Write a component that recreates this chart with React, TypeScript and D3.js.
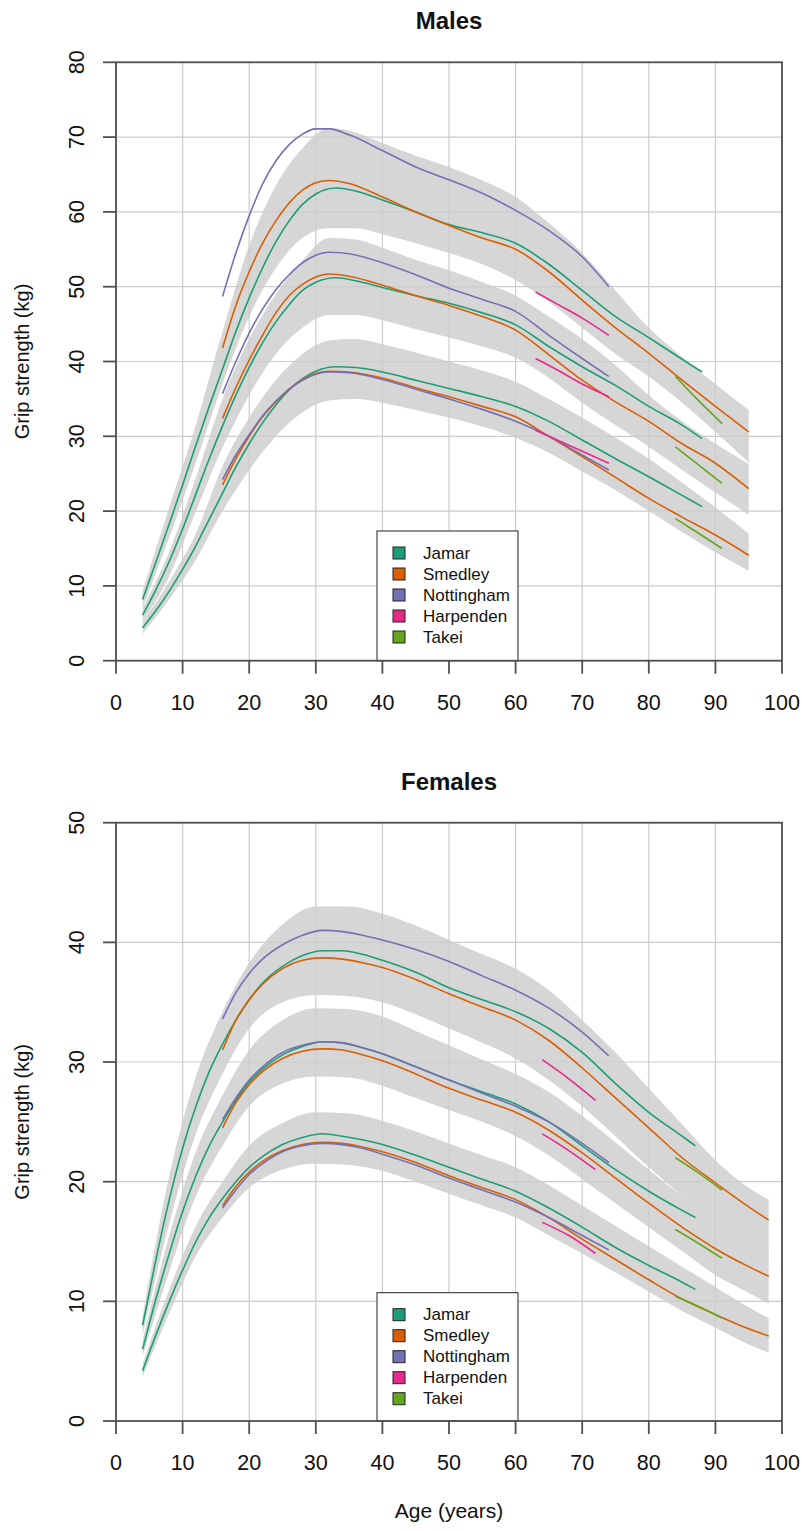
import React from "react";
import * as d3 from "d3";

// ---------- Legend / categories ----------
const DEVICES = ["Jamar", "Smedley", "Nottingham", "Harpenden", "Takei"];
const DEVICE_COLORS = ["#1B9E77", "#D95F02", "#7570B3", "#E7298A", "#66A61E"];
const AGE_TICKS = [0, 10, 20, 30, 40, 50, 60, 70, 80, 90, 100];
const MALE_KG_TICKS = [0, 10, 20, 30, 40, 50, 60, 70, 80];
const FEMALE_KG_TICKS = [0, 10, 20, 30, 40, 50];

// ---------- Males: device curves (10th, 50th, 90th centiles) ----------
const M_JAMAR_AGES = [4, 6, 8, 10, 12, 14, 16, 18, 20, 22, 24, 26, 28, 30, 33, 36, 40, 45, 50, 55, 60, 65, 70, 75, 80, 85, 88];
const M_JAMAR_HI = [8.2, 13.2, 18.3, 23.5, 28.8, 34, 39, 44, 48.5, 52.5, 56, 58.8, 61, 62.4, 63.2, 62.8, 61.6, 60, 58.3, 57.2, 55.8, 53, 49.5, 46, 43.2, 40.3, 38.6];
const M_JAMAR_MID = [6.1, 9.5, 13.3, 17.6, 22.3, 27, 31.4, 35.5, 39.2, 42.5, 45.3, 47.6, 49.5, 50.6, 51.2, 50.8, 49.9, 48.8, 47.8, 46.5, 44.9, 42, 39.3, 36.8, 34, 31.5, 29.7];
const M_JAMAR_LO = [4.4, 6.7, 9.3, 12.2, 15.4, 18.9, 22.4, 25.9, 29, 31.8, 34.2, 36.2, 37.7, 38.7, 39.3, 39.2, 38.6, 37.5, 36.4, 35.3, 34, 32, 29.5, 27, 24.6, 22.1, 20.6];

const M_SMEDLEY_AGES = [16, 18, 20, 22, 24, 26, 28, 30, 32, 35, 40, 45, 50, 55, 60, 65, 70, 75, 80, 85, 90, 95];
const M_SMEDLEY_HI = [41.8, 47.5, 52, 55.8, 58.8, 61.2, 62.9, 63.9, 64.2, 63.8, 62, 60, 58.2, 56.5, 55, 52, 48.2, 44.5, 41.1, 37.5, 34, 30.6];
const M_SMEDLEY_MID = [32.4, 36.5, 40.2, 43.5, 46.5, 48.8, 50.3, 51.3, 51.7, 51.4, 50.2, 48.8, 47.5, 46, 44.2, 40.9, 37.5, 34.6, 32, 29, 26.4, 23];
const M_SMEDLEY_LO = [23.5, 27, 30, 32.6, 34.6, 36.3, 37.6, 38.4, 38.7, 38.6, 37.8, 36.5, 35.3, 34, 32.6, 30, 27.3, 24.5, 21.7, 19.2, 16.8, 14.1];

const M_NOTT_AGES = [16, 18, 20, 22, 24, 26, 28, 30, 32, 35, 40, 45, 50, 55, 60, 65, 70, 74];
const M_NOTT_HI = [48.7, 54.5, 59.5, 63.7, 66.8, 69, 70.4, 71.1, 71.1, 70.3, 68.2, 66, 64.3, 62.5, 60.2, 57.5, 54, 50];
const M_NOTT_MID = [35.7, 40, 43.8, 47, 49.6, 51.6, 53.2, 54.2, 54.6, 54.4, 53.2, 51.6, 49.8, 48.3, 46.7, 43.5, 40.4, 38];
const M_NOTT_LO = [24.2, 27.5, 30.2, 32.7, 34.7, 36.3, 37.5, 38.3, 38.6, 38.5, 37.6, 36.3, 35, 33.6, 32, 30, 27.5, 25.5];

const M_HARP_AGES = [63, 66, 70, 74];
const M_HARP_HI = [49.3, 47.8, 45.8, 43.5];
const M_HARP_MID = [40.4, 39, 37, 35.3];
const M_HARP_LO = [30.8, 29.6, 28, 26.4];

const M_TAKEI_AGES = [84, 87, 91];
const M_TAKEI_HI = [38.0, 35.2, 31.7];
const M_TAKEI_MID = [28.6, 26.5, 23.7];
const M_TAKEI_LO = [19.0, 17.3, 15.0];

// ---------- Males: grey reference bands ----------
const M_BAND_AGES = [4, 8, 12, 16, 20, 24, 28, 32, 36, 40, 45, 50, 55, 60, 65, 70, 75, 80, 85, 90, 95];
const M_BAND_HI_LOWER = [7.0, 16.5, 26.5, 37, 46, 52.5, 56.5, 57.8, 57.8, 57, 55.8, 54.5, 53, 50.9, 48, 44.5, 41, 38, 34.5, 30.6, 26.5];
const M_BAND_HI_UPPER = [9.4, 20.5, 31.5, 44, 55.5, 63.5, 68.5, 71.2, 70.6, 69.2, 67.5, 66, 64.2, 62, 58.5, 54.5, 49.5, 44.5, 40.6, 37, 33.5];
const M_BAND_MID_LOWER = [5.2, 11.3, 20, 28.5, 35.5, 41, 44.5, 46.2, 46.2, 45.5, 44.3, 43.2, 42, 40.5, 37.8, 34.5, 31.5, 28.6, 25.5, 22.5, 19.5];
const M_BAND_MID_UPPER = [7.0, 14.6, 24.5, 35, 43, 49, 53.5, 56.5, 56.3, 55.2, 53.6, 52.2, 50.6, 48.8, 46, 43, 39.5, 35.5, 32, 29, 26.3];
const M_BAND_LO_LOWER = [3.6, 8.2, 13.5, 20, 25.5, 30, 33.2, 34.8, 35, 34.5, 33.5, 32.5, 31.3, 29.8, 27.8, 25.3, 22.8, 20, 17.2, 14.5, 12];
const M_BAND_LO_UPPER = [5.2, 10.6, 17, 26, 32.5, 37.5, 41, 42.8, 43, 42.3, 41.2, 40, 38.8, 37.3, 35, 32.5, 29.8, 27, 23.8, 20.5, 17];

// ---------- Females: device curves ----------
const F_JAMAR_AGES = [4, 6, 8, 10, 12, 14, 16, 18, 20, 22, 25, 28, 31, 34, 37, 40, 45, 50, 55, 60, 65, 70, 75, 80, 85, 87];
const F_JAMAR_HI = [8, 13.5, 18.5, 22.8, 26.3, 29.2, 31.5, 33.5, 35.2, 36.6, 38, 38.9, 39.3, 39.3, 39, 38.5, 37.5, 36.2, 35.2, 34.2, 32.8, 30.8, 28.2, 25.8, 23.8, 23];
const F_JAMAR_MID = [6, 10.2, 14, 17.5, 20.5, 23, 25, 26.8, 28.3, 29.4, 30.6, 31.3, 31.7, 31.6, 31.2, 30.7, 29.6, 28.5, 27.5, 26.5, 25, 23, 21, 19.2, 17.6, 17];
const F_JAMAR_LO = [4.2, 7.2, 10, 12.6, 15, 17, 18.6, 20, 21.2, 22.1, 23.1, 23.7, 24, 23.8, 23.5, 23.1, 22.2, 21.2, 20.2, 19.2, 17.8, 16.2, 14.5, 13, 11.6, 11];

const F_SMEDLEY_AGES = [16, 18, 20, 22, 25, 28, 31, 34, 37, 40, 45, 50, 55, 60, 65, 70, 75, 80, 85, 90, 95, 98];
const F_SMEDLEY_HI = [31, 33.5, 35.2, 36.5, 37.8, 38.5, 38.7, 38.6, 38.3, 37.9, 36.9, 35.7, 34.6, 33.5, 31.8, 29.5, 27, 24.5, 22, 19.9, 17.9, 16.8];
const F_SMEDLEY_MID = [24.5, 26.6, 28.1, 29.2, 30.3, 30.9, 31.1, 31, 30.6, 30.1, 29, 27.8, 26.8, 25.8, 24.3, 22.4, 20.3, 18.2, 16.2, 14.4, 12.9, 12.1];
const F_SMEDLEY_LO = [18, 19.6, 20.8, 21.7, 22.6, 23.1, 23.3, 23.2, 22.9, 22.5, 21.6, 20.5, 19.5, 18.5, 17, 15.2, 13.5, 11.8, 10.2, 8.9, 7.7, 7.1];

const F_NOTT_AGES = [16, 18, 20, 22, 25, 28, 31, 34, 37, 40, 45, 50, 55, 60, 65, 70, 74];
const F_NOTT_HI = [33.6, 35.8, 37.4, 38.6, 39.8, 40.6, 41, 40.9, 40.6, 40.2, 39.4, 38.4, 37.2, 36, 34.5, 32.5, 30.5];
const F_NOTT_MID = [25.2, 27, 28.5, 29.6, 30.8, 31.4, 31.7, 31.6, 31.2, 30.7, 29.6, 28.5, 27.4, 26.3, 25, 23.2, 21.6];
const F_NOTT_LO = [17.8, 19.3, 20.6, 21.5, 22.5, 23, 23.2, 23.1, 22.8, 22.3, 21.4, 20.3, 19.3, 18.3, 17, 15.5, 14.3];

const F_HARP_AGES = [64, 68, 72];
const F_HARP_HI = [30.2, 28.6, 26.8];
const F_HARP_MID = [24, 22.6, 21];
const F_HARP_LO = [16.6, 15.5, 14];

const F_TAKEI_AGES = [84, 87, 91];
const F_TAKEI_HI = [22, 20.9, 19.3];
const F_TAKEI_MID = [16, 15, 13.6];
const F_TAKEI_LO = [10.4, 9.7, 8.6];

// ---------- Females: grey reference bands ----------
const F_BAND_AGES = [4, 8, 12, 16, 20, 25, 30, 35, 40, 45, 50, 55, 60, 65, 70, 75, 80, 85, 90, 95, 98];
const F_BAND_HI_LOWER = [7.2, 16.5, 24, 29, 32.8, 35, 35.6, 35.5, 35, 34, 32.8, 31.6, 30.3, 28.5, 26.3, 23.8, 21.2, 18.8, 16.5, 14.5, 13.5];
const F_BAND_HI_UPPER = [8.8, 20.5, 28.8, 34.2, 38.3, 41.5, 43, 43, 42.4, 41.4, 40.2, 39, 37.8, 36, 33.5, 30.8, 27.8, 24.8, 21.8, 19.5, 18.5];
const F_BAND_MID_LOWER = [5.4, 12.5, 18.8, 23, 26.3, 28.2, 28.8, 28.7, 28, 27, 26, 25, 23.8, 22.2, 20.2, 18.2, 16.2, 14.2, 12.2, 10.7, 9.8];
const F_BAND_MID_UPPER = [6.8, 15.5, 22.5, 27.2, 31, 33.5, 34.5, 34.4, 33.8, 32.6, 31.4, 30.2, 29, 27.5, 25.5, 23.3, 21, 18.8, 16.8, 15, 14];
const F_BAND_LO_LOWER = [3.7, 9, 13.8, 17, 19.5, 21, 21.5, 21.4, 20.9, 20, 19, 18, 17, 15.5, 14, 12.4, 10.8, 9.2, 7.8, 6.4, 5.7];
const F_BAND_LO_UPPER = [4.8, 11, 16.3, 20, 23, 24.9, 25.8, 25.7, 25.1, 24.2, 23.2, 22.2, 21.2, 19.7, 18, 16.3, 14.6, 12.9, 11.2, 9.5, 8.6];

// ---------- assemble ----------
type Series = { device: number; ages: number[]; values: number[] };
type Band = { ages: number[]; lower: number[]; upper: number[] };

const maleSeries: Series[] = [
  ...[M_JAMAR_HI, M_JAMAR_MID, M_JAMAR_LO].map((v) => ({ device: 0, ages: M_JAMAR_AGES, values: v })),
  ...[M_SMEDLEY_HI, M_SMEDLEY_MID, M_SMEDLEY_LO].map((v) => ({ device: 1, ages: M_SMEDLEY_AGES, values: v })),
  ...[M_NOTT_HI, M_NOTT_MID, M_NOTT_LO].map((v) => ({ device: 2, ages: M_NOTT_AGES, values: v })),
  ...[M_HARP_HI, M_HARP_MID, M_HARP_LO].map((v) => ({ device: 3, ages: M_HARP_AGES, values: v })),
  ...[M_TAKEI_HI, M_TAKEI_MID, M_TAKEI_LO].map((v) => ({ device: 4, ages: M_TAKEI_AGES, values: v })),
];
const maleBands: Band[] = [
  { ages: M_BAND_AGES, lower: M_BAND_HI_LOWER, upper: M_BAND_HI_UPPER },
  { ages: M_BAND_AGES, lower: M_BAND_MID_LOWER, upper: M_BAND_MID_UPPER },
  { ages: M_BAND_AGES, lower: M_BAND_LO_LOWER, upper: M_BAND_LO_UPPER },
];
const femaleSeries: Series[] = [
  ...[F_JAMAR_HI, F_JAMAR_MID, F_JAMAR_LO].map((v) => ({ device: 0, ages: F_JAMAR_AGES, values: v })),
  ...[F_SMEDLEY_HI, F_SMEDLEY_MID, F_SMEDLEY_LO].map((v) => ({ device: 1, ages: F_SMEDLEY_AGES, values: v })),
  ...[F_NOTT_HI, F_NOTT_MID, F_NOTT_LO].map((v) => ({ device: 2, ages: F_NOTT_AGES, values: v })),
  ...[F_HARP_HI, F_HARP_MID, F_HARP_LO].map((v) => ({ device: 3, ages: F_HARP_AGES, values: v })),
  ...[F_TAKEI_HI, F_TAKEI_MID, F_TAKEI_LO].map((v) => ({ device: 4, ages: F_TAKEI_AGES, values: v })),
];
const femaleBands: Band[] = [
  { ages: F_BAND_AGES, lower: F_BAND_HI_LOWER, upper: F_BAND_HI_UPPER },
  { ages: F_BAND_AGES, lower: F_BAND_MID_LOWER, upper: F_BAND_MID_UPPER },
  { ages: F_BAND_AGES, lower: F_BAND_LO_LOWER, upper: F_BAND_LO_UPPER },
];

const FONT = "'Liberation Sans', Arial, sans-serif";
const AXIS_COLOR = "#505050";
const GRID_COLOR = "#cccccc";
const BAND_COLOR = "#d6d6d6";

type PanelProps = {
  title: string;
  top: number;
  bottom: number;
  yMax: number;
  yTicks: number[];
  series: Series[];
  bands: Band[];
  legendTop: number;
};

const LEFT = 116;
const RIGHT = 782;

function Panel({ title, top, bottom, yMax, yTicks, series, bands, legendTop }: PanelProps) {
  const x = d3.scaleLinear().domain([0, 100]).range([LEFT, RIGHT]);
  const y = d3.scaleLinear().domain([0, yMax]).range([bottom, top]);

  const area = (b: Band) =>
    d3
      .area<number>()
      .x((_, i) => x(b.ages[i]))
      .y0((_, i) => y(b.lower[i]))
      .y1((_, i) => y(b.upper[i]))
      .curve(d3.curveMonotoneX)(b.ages) || "";

  const line = (s: Series) =>
    d3
      .line<number>()
      .x((_, i) => x(s.ages[i]))
      .y((_, i) => y(s.values[i]))
      .curve(d3.curveMonotoneX)(s.ages) || "";

  const midY = (top + bottom) / 2;
  const midX = (LEFT + RIGHT) / 2;
  const legendLeft = 377;
  const legendRight = 518;

  return (
    <g>
      <text x={midX} y={top - 33} textAnchor="middle" fontFamily={FONT} fontWeight="bold" fontSize={24} fill="#111">
        {title}
      </text>
      {bands.map((b, i) => (
        <path key={"b" + i} d={area(b)} fill={BAND_COLOR} stroke="none" />
      ))}
      {AGE_TICKS.map((t) => (
        <line key={"gx" + t} x1={x(t)} x2={x(t)} y1={top} y2={bottom} stroke={GRID_COLOR} strokeWidth={1.2} />
      ))}
      {yTicks.map((t) => (
        <line key={"gy" + t} x1={LEFT} x2={RIGHT} y1={y(t)} y2={y(t)} stroke={GRID_COLOR} strokeWidth={1.2} />
      ))}
      {series.map((s, i) => (
        <path key={"s" + i} d={line(s)} fill="none" stroke={DEVICE_COLORS[s.device]} strokeWidth={1.6} />
      ))}
      {/* legend */}
      <rect x={legendLeft} y={legendTop} width={legendRight - legendLeft} height={bottom - legendTop} fill="#fff" stroke="#222" strokeWidth={1} />
      {DEVICES.map((d, i) => {
        const cy = legendTop + 22 + i * 21;
        return (
          <g key={d}>
            <rect x={393} y={cy - 6} width={12} height={12} fill={DEVICE_COLORS[i]} stroke="#222" strokeWidth={1} />
            <text x={423} y={cy} dominantBaseline="central" fontFamily={FONT} fontSize={17} fill="#111">
              {d}
            </text>
          </g>
        );
      })}
      {/* box */}
      <rect x={LEFT} y={top} width={RIGHT - LEFT} height={bottom - top} fill="none" stroke={AXIS_COLOR} strokeWidth={1.8} />
      {/* x ticks */}
      {AGE_TICKS.map((t) => (
        <g key={"tx" + t}>
          <line x1={x(t)} x2={x(t)} y1={bottom} y2={bottom + 13} stroke={AXIS_COLOR} strokeWidth={1.8} />
          <text x={x(t)} y={bottom + 42} textAnchor="middle" dominantBaseline="central" fontFamily={FONT} fontSize={21.5} fill="#111">
            {t}
          </text>
        </g>
      ))}
      {/* y ticks */}
      {yTicks.map((t) => (
        <g key={"ty" + t}>
          <line x1={LEFT - 13} x2={LEFT} y1={y(t)} y2={y(t)} stroke={AXIS_COLOR} strokeWidth={1.8} />
          <text
            transform={`translate(77,${y(t)}) rotate(-90)`}
            textAnchor="middle"
            dominantBaseline="central"
            fontFamily={FONT}
            fontSize={21.5}
            fill="#111"
          >
            {t}
          </text>
        </g>
      ))}
      <text
        transform={`translate(22,${midY}) rotate(-90)`}
        textAnchor="middle"
        dominantBaseline="central"
        fontFamily={FONT}
        fontSize={20}
        fill="#111"
      >
        Grip strength (kg)
      </text>
    </g>
  );
}

export default function App() {
  return (
    <div style={{ position: "absolute", left: 0, top: 0, width: 802, height: 1531, background: "#fff" }}>
      <svg width={802} height={1531} viewBox="0 0 802 1531" style={{ display: "block" }}>
        <rect width={802} height={1531} fill="#fff" />
        <Panel
          title="Males"
          top={62.3}
          bottom={660.7}
          yMax={80}
          yTicks={MALE_KG_TICKS}
          series={maleSeries}
          bands={maleBands}
          legendTop={531}
        />
        <Panel
          title="Females"
          top={822.7}
          bottom={1421}
          yMax={50}
          yTicks={FEMALE_KG_TICKS}
          series={femaleSeries}
          bands={femaleBands}
          legendTop={1292.7}
        />
        <text x={449} y={1510} textAnchor="middle" dominantBaseline="central" fontFamily={FONT} fontSize={21} fill="#111">
          Age (years)
        </text>
      </svg>
    </div>
  );
}
